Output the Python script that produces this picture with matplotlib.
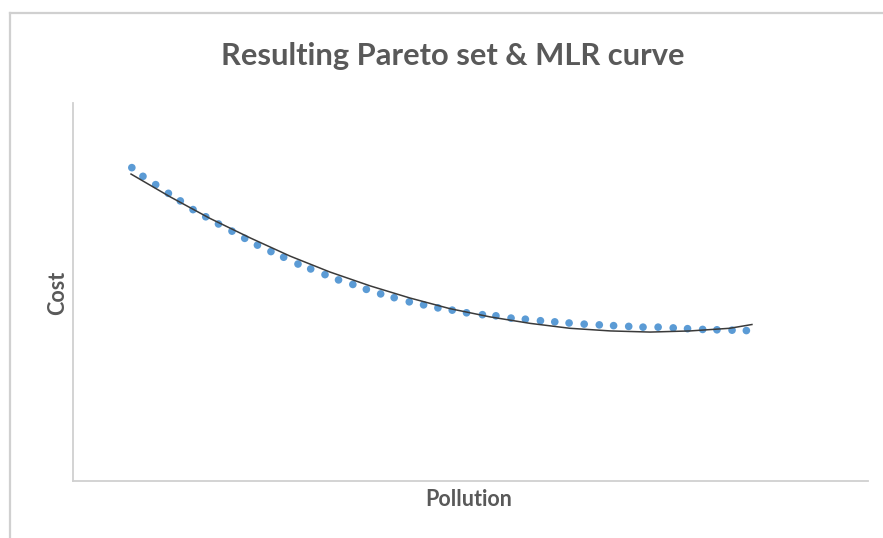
import matplotlib
matplotlib.use("Agg")
import matplotlib.pyplot as plt
from matplotlib.lines import Line2D

# Pareto set (pollution, cost) in arbitrary units
pollution = [7.4, 8.8, 10.4, 12.0, 13.5, 15.1, 16.7, 18.3, 20.0, 21.6, 23.2, 24.9,
             26.5, 28.3, 29.9, 31.7, 33.4, 35.2, 36.9, 38.7, 40.4, 42.3, 44.1, 45.9,
             47.7, 49.5, 51.5, 53.2, 55.1, 56.9, 58.8, 60.6, 62.4, 64.3, 66.2, 68.0,
             69.9, 71.7, 73.6, 75.5, 77.3, 79.2, 81.0, 82.9, 84.7]
cost = [82.9, 80.6, 78.4, 76.1, 74.1, 71.8, 69.9, 68.0, 66.1, 64.2, 62.4, 60.7,
        59.2, 57.4, 56.1, 54.6, 53.2, 52.0, 50.7, 49.5, 48.5, 47.4, 46.6, 45.8,
        45.2, 44.5, 44.0, 43.7, 43.1, 42.8, 42.4, 42.1, 41.8, 41.5, 41.3, 41.1,
        40.9, 40.7, 40.7, 40.5, 40.3, 40.1, 40.0, 39.9, 39.8]

# MLR curve samples
curve_x = [7.3, 12.2, 17.2, 22.3, 27.3, 32.3, 37.4, 42.4, 47.4, 52.5, 57.5,
           62.5, 67.6, 72.6, 77.6, 82.6, 85.4]
curve_y = [81.2, 75.2, 69.5, 64.3, 59.5, 55.3, 51.6, 48.4, 45.6, 43.4, 41.7,
           40.4, 39.7, 39.4, 39.7, 40.4, 41.4]

title = "Resulting Pareto set & MLR curve"
xlabel = "Pollution"
ylabel = "Cost"

W, H = 883, 538
fig = plt.figure(figsize=(W / 100, H / 100), dpi=100)
fig.patch.set_facecolor("white")

# outer chart-area frame (partially visible)
frame_col = "#d0d0d0"
fig.add_artist(Line2D([9.5 / W, 9.5 / W], [0, 1 - 12.5 / H], transform=fig.transFigure,
                      color=frame_col, lw=1.6))
fig.add_artist(Line2D([9.5 / W, 1], [1 - 12.5 / H, 1 - 12.5 / H], transform=fig.transFigure,
                      color=frame_col, lw=1.6))

ax = fig.add_axes([73 / W, (H - 481) / H, (868 - 73) / W, (481 - 103) / H])
ax.set_xlim(0, 100)
ax.set_ylim(0, 100)
for s in ["top", "right"]:
    ax.spines[s].set_visible(False)
for s in ["left", "bottom"]:
    ax.spines[s].set_color("#d0d0d0")
    ax.spines[s].set_linewidth(1.3)
ax.set_xticks([])
ax.set_yticks([])

ax.scatter(pollution, cost, s=30, color="#5B9BD5", edgecolors="none", zorder=2)
ax.plot(curve_x, curve_y, color="#3a3a3a", lw=1.1, zorder=3)

txt_col = "#595959"
fig.text(452.5 / W, 1 - 56 / H, title, ha="center", va="center",
         fontsize=22.2, fontweight="bold", color=txt_col, family="Lato")
fig.text(469 / W, 1 - 500 / H, xlabel, ha="center", va="center",
         fontsize=15.5, fontweight="bold", color=txt_col, family="Lato")
fig.text(58 / W, 1 - 293 / H, ylabel, ha="center", va="center", rotation=90,
         fontsize=15.5, fontweight="bold", color=txt_col, family="Lato")

fig.savefig("out.png", dpi=100)
